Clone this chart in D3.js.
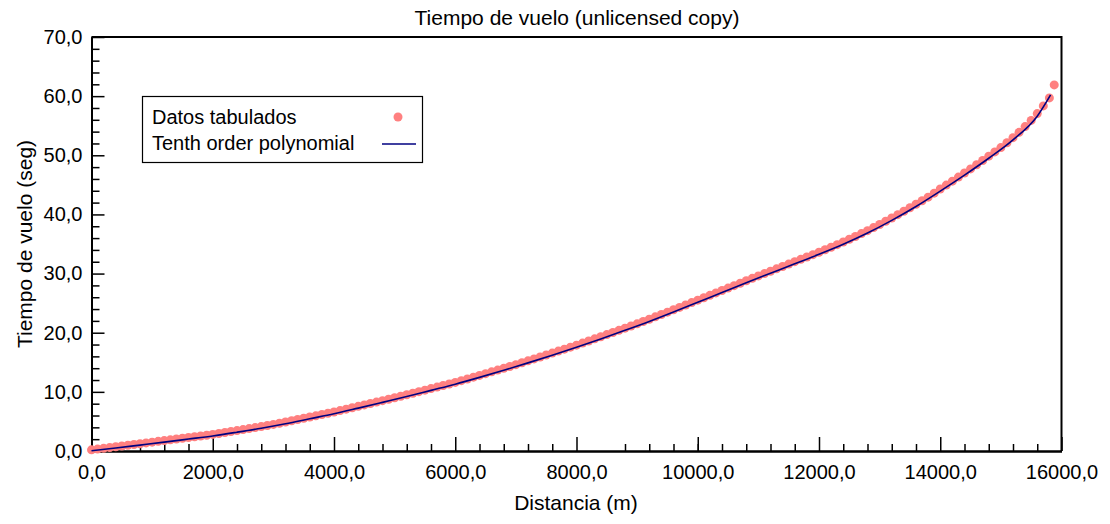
<!DOCTYPE html>
<html>
<head>
<meta charset="utf-8">
<script src="https://cdn.jsdelivr.net/npm/d3@7"></script>
<style>
  html, body { margin: 0; padding: 0; background: #fff; }
  svg { display: block; font-family: "Liberation Sans", Arial, sans-serif; }
</style>
</head>
<body>
<svg id="chart" width="1110" height="524"></svg>
<script>
// ---- Data ----
const distancia = [
  0,100,200,300,400,500,600,700,800,900,
  1000,1100,1200,1300,1400,1500,1600,1700,1800,1900,
  2000,2100,2200,2300,2400,2500,2600,2700,2800,2900,
  3000,3100,3200,3300,3400,3500,3600,3700,3800,3900,
  4000,4100,4200,4300,4400,4500,4600,4700,4800,4900,
  5000,5100,5200,5300,5400,5500,5600,5700,5800,5900,
  6000,6100,6200,6300,6400,6500,6600,6700,6800,6900,
  7000,7100,7200,7300,7400,7500,7600,7700,7800,7900,
  8000,8100,8200,8300,8400,8500,8600,8700,8800,8900,
  9000,9100,9200,9300,9400,9500,9600,9700,9800,9900,
  10000,10100,10200,10300,10400,10500,10600,10700,10800,10900,
  11000,11100,11200,11300,11400,11500,11600,11700,11800,11900,
  12000,12100,12200,12300,12400,12500,12600,12700,12800,12900,
  13000,13100,13200,13300,13400,13500,13600,13700,13800,13900,
  14000,14100,14200,14300,14400,14500,14600,14700,14800,14900,
  15000,15100,15200,15300,15400,15500,15600,15700,15800,15880
];
const tiempo = [
  0.20,0.32,0.45,0.58,0.71,0.84,0.97,1.10,1.23,1.37,
  1.50,1.63,1.76,1.89,2.02,2.15,2.28,2.41,2.54,2.67,
  2.80,2.96,3.12,3.29,3.45,3.62,3.79,3.96,4.13,4.31,
  4.50,4.70,4.90,5.11,5.32,5.53,5.74,5.95,6.17,6.38,
  6.60,6.83,7.07,7.31,7.55,7.79,8.03,8.27,8.51,8.75,
  9.00,9.25,9.51,9.77,10.03,10.29,10.55,10.81,11.07,11.33,
  11.60,11.89,12.18,12.48,12.78,13.08,13.38,13.68,13.98,14.29,
  14.60,14.92,15.24,15.57,15.90,16.23,16.56,16.89,17.22,17.56,
  17.90,18.25,18.60,18.96,19.32,19.68,20.04,20.40,20.77,21.13,
  21.50,21.89,22.28,22.68,23.08,23.48,23.88,24.28,24.68,25.09,
  25.50,25.91,26.32,26.73,27.14,27.55,27.96,28.37,28.78,29.19,
  29.60,30.00,30.40,30.80,31.20,31.60,32.01,32.41,32.81,33.20,
  33.60,34.02,34.45,34.89,35.34,35.80,36.27,36.76,37.26,37.77,
  38.30,38.84,39.39,39.96,40.54,41.13,41.72,42.32,42.92,43.60,
  44.30,44.96,45.63,46.31,47.00,47.70,48.40,49.12,49.85,50.57,
  51.30,52.12,52.98,53.88,54.85,55.90,57.05,58.35,59.70,61.90
];
const ajusteX = [0,400,800,1200,1600,2000,2400,2800,3200,3600,4000,4400,4800,5200,5600,6000,6400,6800,7200,7600,8000,8400,8800,9200,9600,10000,10400,10800,11200,11600,12000,12400,12800,13200,13600,14000,14400,14800,15200,15600,15820];
const ajusteT = [0.05,0.50,1.00,1.50,2.02,2.55,3.18,3.85,4.60,5.45,6.30,7.25,8.22,9.20,10.25,11.30,12.45,13.65,14.90,16.20,17.55,18.95,20.40,21.90,23.50,25.15,26.80,28.45,30.05,31.65,33.25,34.95,36.85,39.00,41.35,43.95,46.65,49.50,52.60,56.60,60.20];
const xMajorTicks = [0,2000,4000,6000,8000,10000,12000,14000,16000];
const xMinorTicks = [400,800,1200,1600,2400,2800,3200,3600,4400,4800,5200,5600,6400,6800,7200,7600,8800,9200,9600,10000,10400,10800,11200,11600,12400,12800,13200,13600,14400,14800,15200,15600];
const yMajorTicks = [0,10,20,30,40,50,60,70];
const yMinorTicks = [2,4,6,8,12,14,16,18,22,24,26,28,32,34,36,38,42,44,46,48,52,54,56,58,62,64,66,68];
const legendLabels = ["Datos tabulados", "Tenth order polynomial"];

// ---- Layout ----
const svg = d3.select("#chart");
const L = 91.5, R = 1061.5, T = 37, B = 451;
const x = d3.scaleLinear().domain([0, 16000]).range([L, R]);
const y = d3.scaleLinear().domain([0, 70]).range([B, T]);
const fmt = d => d3.format(".1f")(d).replace(".", ",");
const FS = 20;

// frame (top + right)
svg.append("path")
  .attr("d", `M${L},${T}H${R}V${B}`)
  .attr("fill", "none").attr("stroke", "#000").attr("stroke-width", 2);

// x axis
const gx = svg.append("g").attr("transform", `translate(0,${B})`);
gx.call(d3.axisBottom(x).tickValues(xMinorTicks).tickSizeInner(-7).tickSizeOuter(0).tickFormat(""));
gx.append("g").call(d3.axisBottom(x).tickValues(xMajorTicks).tickSizeInner(-14).tickSizeOuter(0).tickPadding(14).tickFormat(fmt));
gx.selectAll("path.domain").attr("stroke-width", 2);
gx.selectAll(".tick line").attr("stroke-width", 1.5);
gx.selectAll("text").attr("font-size", FS).attr("font-family", "Liberation Sans, Arial, sans-serif").attr("fill", "#000");

// y axis
const gy = svg.append("g").attr("transform", `translate(${L},0)`);
gy.call(d3.axisLeft(y).tickValues(yMinorTicks).tickSizeInner(-8).tickSizeOuter(0).tickFormat(""));
gy.append("g").call(d3.axisLeft(y).tickValues(yMajorTicks).tickSizeInner(-13).tickSizeOuter(0).tickPadding(9).tickFormat(fmt));
gy.selectAll("path.domain").attr("stroke-width", 2);
gy.selectAll(".tick line").attr("stroke-width", 1.5);
gy.selectAll("text").attr("font-size", FS).attr("font-family", "Liberation Sans, Arial, sans-serif").attr("fill", "#000");

// data points
const pts = distancia.map((d, i) => [d, tiempo[i]]);
svg.append("g").selectAll("circle").data(pts).join("circle")
  .attr("cx", d => x(d[0])).attr("cy", d => y(d[1])).attr("r", 4.5)
  .attr("fill", "#ff8080");

// fitted polynomial line
const fit = ajusteX.map((d, i) => [d, ajusteT[i]]);
svg.append("path").datum(fit)
  .attr("d", d3.line().x(d => x(d[0])).y(d => y(d[1])).curve(d3.curveMonotoneX))
  .attr("fill", "none").attr("stroke", "#000080").attr("stroke-width", 1.6);

// titles
svg.append("text").attr("x", 577).attr("y", 25).attr("text-anchor", "middle")
  .attr("font-size", 21).text("Tiempo de vuelo (unlicensed copy)");
svg.append("text").attr("x", 576).attr("y", 510).attr("text-anchor", "middle")
  .attr("font-size", 21).text("Distancia (m)");
svg.append("text").attr("transform", `translate(32,${(T + B) / 2}) rotate(-90)`)
  .attr("text-anchor", "middle").attr("font-size", 21).text("Tiempo de vuelo (seg)");

// legend
const lg = svg.append("g");
lg.append("rect").attr("x", 142.5).attr("y", 96.5).attr("width", 280).attr("height", 66)
  .attr("fill", "#fff").attr("stroke", "#000").attr("stroke-width", 1.2);
lg.append("text").attr("x", 152).attr("y", 124).attr("font-size", FS).text(legendLabels[0]);
lg.append("text").attr("x", 152).attr("y", 150).attr("font-size", FS).text(legendLabels[1]);
lg.append("circle").attr("cx", 398).attr("cy", 117).attr("r", 4.5).attr("fill", "#ff8080");
lg.append("line").attr("x1", 382).attr("x2", 416).attr("y1", 144).attr("y2", 144)
  .attr("stroke", "#000080").attr("stroke-width", 1.6);
</script>
</body>
</html>
